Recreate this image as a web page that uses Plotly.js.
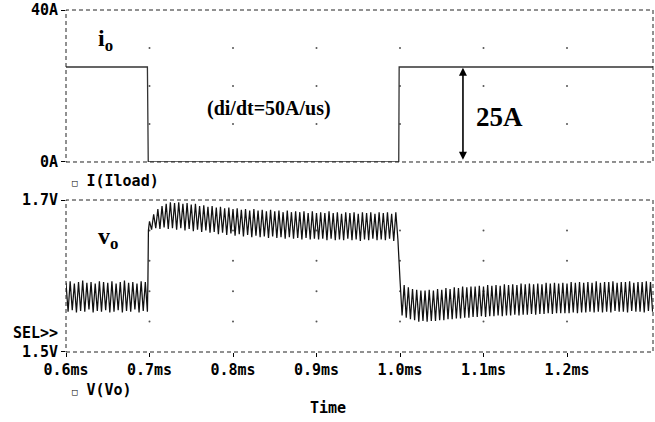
<!DOCTYPE html>
<html>
<head>
<meta charset="utf-8">
<script src="https://cdn.plot.ly/plotly-3.0.1.min.js"></script>
<style>html,body{margin:0;padding:0;background:#fff;}#chart{width:655px;height:422px;}</style>
</head>
<body>
<div id="chart"></div>
<script>
// ---- Load current i_o (A) ----
var tI = [0.6, 0.6975, 0.6985, 0.9985, 0.999, 1.303];
var iLoad = [25, 25, 0, 0, 25, 25];

// ---- Output voltage v_o (V), read peak/valley by peak/valley ----
var tA = [0.6,0.6025,0.605,0.6075,0.61,0.6125,0.615,0.6175,0.62,0.6225,0.625,0.6275,0.63,0.6325,0.635,0.6375,0.64,0.6425,0.645,0.6475,
          0.65,0.6525,0.655,0.6575,0.66,0.6625,0.665,0.6675,0.67,0.6725,0.675,0.6775,0.68,0.6825,0.685,0.6875,0.69,0.6925,0.695,0.6975,
          0.6981,0.6987];
var vA = [1.591,1.553,1.593,1.555,1.590,1.552,1.592,1.554,1.594,1.553,1.591,1.556,1.592,1.552,1.590,1.554,1.593,1.553,1.592,1.555,
          1.591,1.552,1.593,1.553,1.590,1.555,1.592,1.552,1.594,1.554,1.591,1.553,1.592,1.556,1.590,1.552,1.593,1.554,1.592,1.553,
          1.592,1.660];
var tB = [0.7,0.7025,0.705,0.7075,0.71,0.7125,0.715,0.7175,0.72,0.7225,0.725,0.7275,0.73,0.7325,0.735,0.7375,0.74,0.7425,0.745,0.7475,
          0.75,0.7525,0.755,0.7575,0.76,0.7625,0.765,0.7675,0.77,0.7725,0.775,0.7775,0.78,0.7825,0.785,0.7875,0.79,0.7925,0.795,0.7975,
          0.8,0.8025,0.805,0.8075,0.81,0.8125,0.815,0.8175,0.82,0.8225,0.825,0.8275,0.83,0.8325,0.835,0.8375,0.84,0.8425,0.845,0.8475,
          0.85,0.8525,0.855,0.8575,0.86,0.8625,0.865,0.8675,0.87,0.8725,0.875,0.8775,0.88,0.8825,0.885,0.8875,0.89,0.8925,0.895,0.8975,
          0.9,0.9025,0.905,0.9075,0.91,0.9125,0.915,0.9175,0.92,0.9225,0.925,0.9275,0.93,0.9325,0.935,0.9375,0.94,0.9425,0.945,0.9475,
          0.95,0.9525,0.955,0.9575,0.96,0.9625,0.965,0.9675,0.97,0.9725,0.975,0.9775,0.98,0.9825,0.985,0.9875,0.99,0.9925,0.995,0.9975];
var vB = [1.672,1.661,1.681,1.663,1.688,1.662,1.692,1.664,1.695,1.662,1.697,1.663,1.696,1.661,1.697,1.663,1.695,1.660,1.696,1.662,
          1.694,1.659,1.695,1.661,1.692,1.658,1.693,1.660,1.691,1.657,1.692,1.658,1.690,1.655,1.691,1.657,1.689,1.654,1.690,1.656,
          1.688,1.653,1.689,1.655,1.687,1.652,1.688,1.654,1.686,1.651,1.688,1.653,1.686,1.651,1.687,1.652,1.685,1.650,1.687,1.652,
          1.685,1.650,1.686,1.651,1.684,1.649,1.686,1.651,1.684,1.649,1.685,1.650,1.684,1.648,1.685,1.650,1.683,1.648,1.685,1.649,
          1.683,1.648,1.684,1.649,1.683,1.647,1.685,1.649,1.683,1.647,1.684,1.648,1.682,1.647,1.684,1.649,1.683,1.647,1.684,1.648,
          1.682,1.646,1.684,1.648,1.683,1.647,1.684,1.649,1.682,1.647,1.684,1.648,1.683,1.647,1.684,1.649,1.682,1.646,1.684,1.648];
var tC = [1.0,1.0025,1.005,1.0075,1.01,1.0125,1.015,1.0175,1.02,1.0225,1.025,1.0275,1.03,1.0325,1.035,1.0375,1.04,1.0425,1.045,1.0475,
          1.05,1.0525,1.055,1.0575,1.06,1.0625,1.065,1.0675,1.07,1.0725,1.075,1.0775,1.08,1.0825,1.085,1.0875,1.09,1.0925,1.095,1.0975,
          1.1,1.1025,1.105,1.1075,1.11,1.1125,1.115,1.1175,1.12,1.1225,1.125,1.1275,1.13,1.1325,1.135,1.1375,1.14,1.1425,1.145,1.1475,
          1.15,1.1525,1.155,1.1575,1.16,1.1625,1.165,1.1675,1.17,1.1725,1.175,1.1775,1.18,1.1825,1.185,1.1875,1.19,1.1925,1.195,1.1975,
          1.2,1.2025,1.205,1.2075,1.21,1.2125,1.215,1.2175,1.22,1.2225,1.225,1.2275,1.23,1.2325,1.235,1.2375,1.24,1.2425,1.245,1.2475,
          1.25,1.2525,1.255,1.2575,1.26,1.2625,1.265,1.2675,1.27,1.2725,1.275,1.2775,1.28,1.2825,1.285,1.2875,1.29,1.2925,1.295,1.2975,
          1.3,1.3025];
var vC = [1.595,1.548,1.588,1.545,1.585,1.543,1.583,1.542,1.582,1.540,1.581,1.541,1.581,1.540,1.582,1.541,1.581,1.541,1.583,1.542,
          1.582,1.542,1.584,1.543,1.583,1.543,1.585,1.544,1.584,1.544,1.586,1.545,1.585,1.545,1.586,1.546,1.586,1.546,1.587,1.547,
          1.586,1.546,1.588,1.547,1.587,1.547,1.588,1.548,1.587,1.547,1.589,1.548,1.588,1.548,1.589,1.549,1.588,1.548,1.590,1.549,
          1.589,1.549,1.590,1.550,1.589,1.549,1.590,1.550,1.589,1.550,1.591,1.551,1.590,1.550,1.591,1.551,1.590,1.551,1.591,1.551,
          1.590,1.551,1.592,1.552,1.591,1.551,1.592,1.552,1.591,1.552,1.592,1.553,1.591,1.552,1.593,1.553,1.591,1.552,1.592,1.553,
          1.592,1.552,1.593,1.554,1.591,1.553,1.592,1.553,1.592,1.552,1.593,1.554,1.591,1.553,1.592,1.553,1.592,1.552,1.593,1.554,
          1.592,1.553];

// ---- Axis ticks / grid ----
var xTickVals = [0.6, 0.7, 0.8, 0.9, 1.0, 1.1, 1.2];
var xTickText = ['0.6ms', '0.7ms', '0.8ms', '0.9ms', '1.0ms', '1.1ms', '1.2ms'];
var xGrid = [0.7, 0.8, 0.9, 1.0, 1.1, 1.2];
var iTickVals = [0, 40];
var iTickText = ['0A', '40A'];
var iGrid = [10, 20, 30];
var vTickVals = [1.5, 1.7];
var vTickText = ['1.5V', '1.7V'];
var vGrid = [1.54, 1.58, 1.62, 1.66];
var xRange = [0.6, 1.303];

var tV = tA.concat(tB, tC);
var vO = vA.concat(vB, vC);

function gridDots(ys) {
  var gx = [], gy = [];
  xGrid.forEach(function (x) { ys.forEach(function (y) { gx.push(x); gy.push(y); }); });
  return {gx: gx, gy: gy};
}
var gI = gridDots(iGrid), gV = gridDots(vGrid);

var mono = 'DejaVu Sans Mono';
var tickFont = {family: mono, size: 15, color: '#000', weight: 'bold'};

var traces = [
  {x: gI.gx, y: gI.gy, xaxis: 'x', yaxis: 'y', mode: 'markers', marker: {size: 2, color: '#555'}, hoverinfo: 'skip'},
  {x: gV.gx, y: gV.gy, xaxis: 'x2', yaxis: 'y2', mode: 'markers', marker: {size: 2, color: '#555'}, hoverinfo: 'skip'},
  {x: tI, y: iLoad, xaxis: 'x', yaxis: 'y', mode: 'lines', line: {color: '#333', width: 1.3}},
  {x: tV, y: vO, xaxis: 'x2', yaxis: 'y2', mode: 'lines', line: {color: '#111', width: 1.25}}
];

var frameLine = {color: '#222', width: 1, dash: '4px,3px'};
var serif = 'Liberation Serif';

var layout = {
  width: 655, height: 422,
  margin: {l: 66, r: 2, t: 10, b: 70},
  paper_bgcolor: '#fff', plot_bgcolor: '#fff',
  showlegend: false,
  xaxis: {domain: [0, 1], anchor: 'y', range: xRange, showticklabels: false, ticks: '',
          showgrid: false, zeroline: false, showline: false},
  yaxis: {domain: [0.5556, 1], anchor: 'x', range: [0, 40], tickvals: iTickVals, ticktext: iTickText,
          ticks: 'outside', ticklen: 4, tickcolor: '#000', tickfont: tickFont,
          showgrid: false, zeroline: false, showline: false},
  xaxis2: {domain: [0, 1], anchor: 'y2', range: xRange, tickvals: xTickVals, ticktext: xTickText,
           ticks: 'outside', ticklen: 4, tickcolor: '#000', tickfont: tickFont,
           showgrid: false, zeroline: false, showline: false},
  yaxis2: {domain: [0, 0.4444], anchor: 'x2', range: [1.5, 1.7], tickvals: vTickVals, ticktext: vTickText,
           ticks: 'outside', ticklen: 4, tickcolor: '#000', tickfont: tickFont,
           showgrid: false, zeroline: false, showline: false},
  shapes: [
    {type: 'rect', xref: 'x domain', yref: 'y domain', x0: 0, x1: 1, y0: 0, y1: 1, line: frameLine},
    {type: 'rect', xref: 'x2 domain', yref: 'y2 domain', x0: 0, x1: 1, y0: 0, y1: 1, line: frameLine}
  ],
  annotations: [
    {xref: 'paper', yref: 'paper', x: 4/589, y: -0.0, yshift: -38, xanchor: 'left', yanchor: 'middle', showarrow: false,
     text: '<span style="font-size:9px">\u25A1</span> V(Vo)', font: {family: mono, size: 15, color: '#000', weight: 'bold'}},
    {xref: 'paper', yref: 'paper', x: 4/589, y: 0.5556, yshift: -19, xanchor: 'left', yanchor: 'middle', showarrow: false,
     text: '<span style="font-size:9px">\u25A1</span> I(Iload)', font: {family: mono, size: 15, color: '#000', weight: 'bold'}},
    {xref: 'paper', yref: 'paper', x: 0, xshift: -6, y: 0.0, yshift: 19, xanchor: 'right', yanchor: 'middle', showarrow: false,
     text: 'SEL>>', font: {family: mono, size: 15, color: '#000', weight: 'bold'}},
    {xref: 'paper', yref: 'paper', x: (328 - 66) / 587, y: 0, yshift: -56, xanchor: 'center', yanchor: 'middle', showarrow: false,
     text: 'Time', font: {family: mono, size: 15, color: '#000', weight: 'bold'}},
    {xref: 'paper', yref: 'paper', x: 30 / 587, y: 1, yshift: -30, xanchor: 'left', yanchor: 'middle', showarrow: false,
     text: '<b>i<sub>o</sub></b>', font: {family: serif, size: 24, color: '#000'}},
    {xref: 'paper', yref: 'paper', x: 30 / 587, y: 0.4444, yshift: -38, xanchor: 'left', yanchor: 'middle', showarrow: false,
     text: '<b>v<sub>o</sub></b>', font: {family: serif, size: 24, color: '#000'}},
    {xref: 'paper', yref: 'paper', x: (269 - 66) / 587, y: 1, yshift: -98, xanchor: 'center', yanchor: 'middle', showarrow: false,
     text: '<b>(di/dt=50A/us)</b>', font: {family: serif, size: 20, color: '#000'}},
    {xref: 'paper', yref: 'paper', x: (499 - 66) / 587, y: 1, yshift: -107, xanchor: 'center', yanchor: 'middle', showarrow: false,
     text: '<b>25A</b>', font: {family: serif, size: 27, color: '#000'}},
    {xref: 'x', yref: 'y', x: 1.0754, y: iLoad[0] - 0.2, axref: 'x', ayref: 'y', ax: 1.0754, ay: 0.2,
     text: '', showarrow: true, arrowhead: 2, arrowside: 'end+start', arrowsize: 1, arrowwidth: 1.6, arrowcolor: '#000'}
  ]
};

Plotly.newPlot('chart', traces, layout, {displayModeBar: false, staticPlot: true});
</script>
</body>
</html>
